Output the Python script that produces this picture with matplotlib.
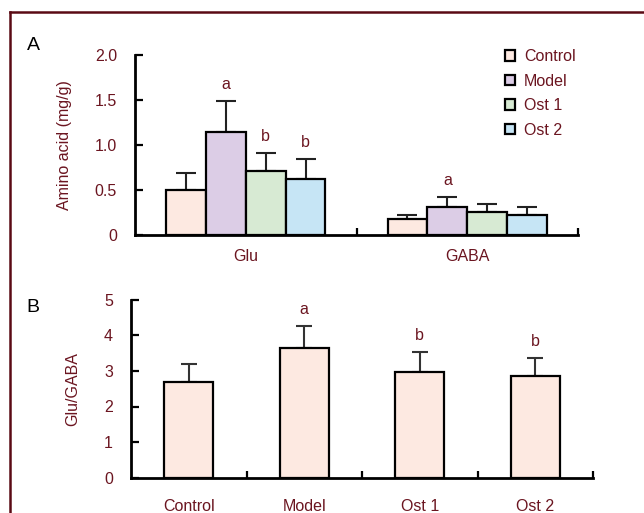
import matplotlib.pyplot as plt
from matplotlib.lines import Line2D
import numpy as np

plt.rcParams['font.family'] = ['Liberation Sans', 'DejaVu Sans']

txt = '#6b1520'
fs = 11.5

# data
groups = ['Control', 'Model', 'Ost 1', 'Ost 2']
colors = ['#fde9e1', '#dccde6', '#d7ead3', '#c6e5f5']
amino = ['Glu', 'GABA']
glu_mean = [0.50, 1.14, 0.71, 0.62]
glu_sd = [0.19, 0.35, 0.20, 0.22]
gaba_mean = [0.18, 0.31, 0.25, 0.22]
gaba_sd = [0.04, 0.11, 0.09, 0.09]
glu_sig = ['', 'a', 'b', 'b']
gaba_sig = ['', 'a', '', '']

ratio_mean = [2.70, 3.65, 2.98, 2.87]
ratio_sd = [0.49, 0.61, 0.56, 0.50]
ratio_sig = ['', 'a', 'b', 'b']

fig = plt.figure(figsize=(6.44, 5.13), dpi=100)

# -------- Panel A --------
axA = fig.add_axes([135/644, 1-235/513, (578-135)/644, (235-55)/513])
w = 0.18
x = np.arange(len(amino))
means = np.array([glu_mean, gaba_mean])
sds = np.array([glu_sd, gaba_sd])
sigs = [glu_sig, gaba_sig]
for i, g in enumerate(groups):
    pos = x + (i - 1.5) * w
    axA.bar(pos, means[:, i], w, color=colors[i], edgecolor='black', lw=1.6, label=g, zorder=2)
    axA.errorbar(pos, means[:, i], yerr=[np.zeros(2), sds[:, i]], fmt='none',
                 ecolor='#222222', elinewidth=1.5, capsize=7, capthick=1.5, zorder=1)
    for j in range(len(amino)):
        if sigs[j][i]:
            axA.annotate(sigs[j][i], (pos[j], means[j, i] + sds[j, i]), xytext=(0, 12),
                         textcoords='offset points', ha='center', va='center',
                         color=txt, fontsize=fs)
axA.set_xlim(-0.5, 1.5)
axA.set_ylim(0, 2.0)
axA.set_yticks([0, 0.5, 1.0, 1.5, 2.0])
axA.set_yticklabels(['0', '0.5', '1.0', '1.5', '2.0'])
axA.set_xticks(x)
axA.set_xticklabels(amino)
axA.set_xticks([0.5, 1.5], minor=True)
axA.tick_params(axis='x', which='major', length=0, pad=10, labelsize=fs, labelcolor=txt)
axA.tick_params(axis='x', which='minor', direction='in', length=5, width=1.6)
axA.tick_params(axis='y', direction='in', length=6, width=1.6, pad=13, labelsize=fs, labelcolor=txt)
axA.set_ylabel('Amino acid (mg/g)', color=txt, fontsize=fs, labelpad=16)
for s in ['top', 'right']:
    axA.spines[s].set_visible(False)
for s in ['left', 'bottom']:
    axA.spines[s].set_linewidth(2)
axA.legend(frameon=False, loc='upper left', bbox_to_anchor=(497/644, 1-41/513),
           bbox_transform=fig.transFigure, borderpad=0, handlelength=0.65, handleheight=0.65,
           handletextpad=0.55, labelspacing=0.6, fontsize=fs, labelcolor=txt)

# -------- Panel B --------
axB = fig.add_axes([131/644, 1-477.7/513, (593-131)/644, (477.7-299.7)/513])
xb = np.arange(len(groups))
axB.bar(xb, ratio_mean, 0.42, color=colors[0], edgecolor='black', lw=1.6, zorder=2)
axB.errorbar(xb, ratio_mean, yerr=[np.zeros(4), ratio_sd], fmt='none',
             ecolor='#333333', elinewidth=1.5, capsize=5.7, capthick=1.5, zorder=1)
for i in range(len(groups)):
    if ratio_sig[i]:
        axB.annotate(ratio_sig[i], (xb[i], ratio_mean[i] + ratio_sd[i]), xytext=(0, 12),
                     textcoords='offset points', ha='center', va='center',
                     color=txt, fontsize=fs)
axB.set_xlim(-0.5, 3.5)
axB.set_ylim(0, 5)
axB.set_yticks(range(6))
axB.set_xticks(xb)
axB.set_xticklabels(groups)
axB.set_xticks([0.5, 1.5, 2.5, 3.5], minor=True)
axB.tick_params(axis='x', which='major', length=0, pad=15, labelsize=fs, labelcolor=txt)
axB.tick_params(axis='x', which='minor', direction='in', length=5, width=1.6)
axB.tick_params(axis='y', direction='in', length=6, width=1.6, pad=13, labelsize=fs, labelcolor=txt)
axB.set_ylabel('Glu/GABA', color=txt, fontsize=fs, labelpad=17)
for s in ['top', 'right']:
    axB.spines[s].set_visible(False)
for s in ['left', 'bottom']:
    axB.spines[s].set_linewidth(2)

# panel letters and frame
fig.text(33/644, 1-45/513, 'A', fontsize=14, ha='center', va='center')
fig.text(33/644, 1-307/513, 'B', fontsize=14, ha='center', va='center')
fig.add_artist(Line2D([10/644, 10/644], [0, 1-12/513], color='#5a0a14', lw=1.8))
fig.add_artist(Line2D([10/644, 1], [1-12/513, 1-12/513], color='#5a0a14', lw=1.8))

fig.savefig('out.png', dpi=100)
